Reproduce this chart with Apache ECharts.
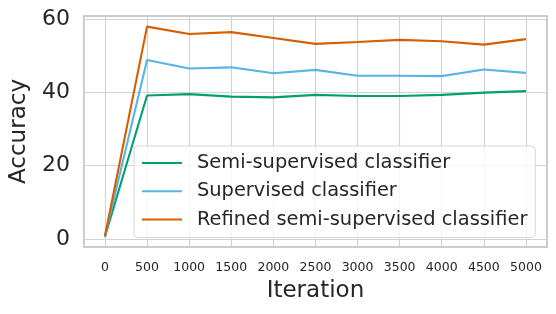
<!DOCTYPE html>
<html>
<head>
<meta charset="utf-8">
<script src="https://cdn.jsdelivr.net/npm/echarts@6/dist/echarts.min.js"></script>
<style>
html,body{margin:0;padding:0;background:#fff;}
#c{width:556px;height:314px;}
</style>
</head>
<body>
<div id="c"></div>
<script>
const iterations = [0, 500, 1000, 1500, 2000, 2500, 3000, 3500, 4000, 4500, 5000];
const semiSupervised = [0.6, 39.1, 39.5, 38.8, 38.6, 39.3, 39.0, 39.0, 39.3, 39.9, 40.3];
const supervised = [0.7, 48.8, 46.5, 46.8, 45.2, 46.1, 44.5, 44.5, 44.4, 46.2, 45.3];
const refinedSemi = [0.8, 57.9, 55.9, 56.4, 54.8, 53.2, 53.7, 54.3, 53.9, 53.0, 54.5];
const yTicks = [0, 20, 40, 60];
const xTicks = iterations;
const seriesNames = ['Semi-supervised classifier', 'Supervised classifier', 'Refined semi-supervised classifier'];

const FONT = 'DejaVu Sans';
const TXT = '#262626';
const chart = echarts.init(document.getElementById('c'), null, {renderer: 'canvas'});
function mk(name, data, color) {
  return {
    name: name, type: 'line', data: iterations.map((x, i) => [x, data[i]]), symbol: 'none', showSymbol: false,
    lineStyle: {color: color, width: 2.1}, itemStyle: {color: color},
    emphasis: {disabled: true}, animation: false
  };
}
chart.setOption({
  animation: false,
  grid: {left: 82, right: 9, top: 16, bottom: 67, show: true, borderColor: '#cccccc', borderWidth: 2, backgroundColor: 'transparent'},
  xAxis: {
    type: 'value', min: -250, max: 5250,
    name: 'Iteration', nameLocation: 'middle', nameGap: 33,
    nameTextStyle: {fontFamily: FONT, fontSize: 23, color: TXT},
    axisLine: {show: false}, axisTick: {show: false, customValues: xTicks},
    axisLabel: {fontFamily: FONT, fontSize: 12.5, color: TXT, margin: 14, customValues: xTicks, formatter: v => String(v)},
    splitLine: {show: true, lineStyle: {color: '#d3d3d3', width: 1.2}}
  },
  yAxis: {
    type: 'value', min: -2.2, max: 60.8,
    name: 'Accuracy', nameLocation: 'middle', nameGap: 49,
    nameTextStyle: {fontFamily: FONT, fontSize: 23, color: TXT},
    axisLine: {show: false}, axisTick: {show: false, customValues: yTicks},
    axisLabel: {fontFamily: FONT, fontSize: 22, color: TXT, margin: 14, customValues: yTicks, formatter: v => String(v)},
    splitLine: {show: true, lineStyle: {color: '#d3d3d3', width: 1.2}}
  },
  legend: {
    data: seriesNames, orient: 'vertical', left: 134, top: 146,
    itemWidth: 40, itemHeight: 14, itemGap: 8.3,
    padding: [7, 8, 8, 7],
    backgroundColor: 'rgba(255,255,255,0.8)', borderColor: '#d6d6d6', borderWidth: 1, borderRadius: 4,
    textStyle: {fontFamily: FONT, fontSize: 19.4, color: TXT, lineHeight: 20, padding: [0, 0, 0, 10]},
    itemStyle: {opacity: 0}, selectedMode: false
  },
  series: [
    mk(seriesNames[0], semiSupervised, '#029e73'),
    mk(seriesNames[1], supervised, '#56b4e9'),
    mk(seriesNames[2], refinedSemi, '#d55e00')
  ]
});
</script>
</body>
</html>
